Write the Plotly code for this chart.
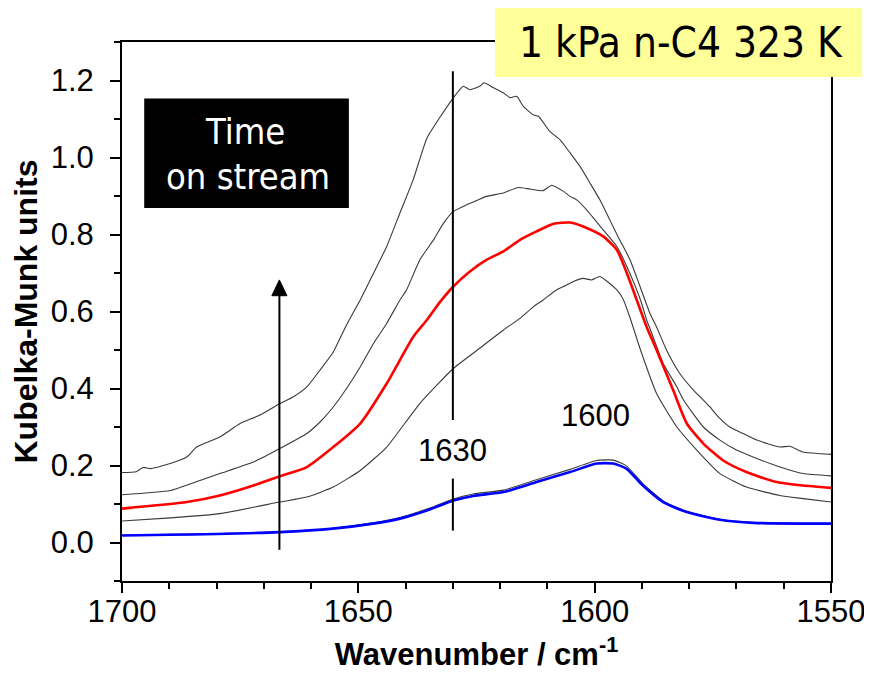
import plotly.graph_objects as go

# ---------------- data ----------------
wn_top = [1700, 1697, 1695.5, 1694, 1689.8, 1686.3, 1684.2, 1679.3, 1675.0, 1670.8, 1666.6, 1663.8,
          1660.9, 1658.1, 1655.3, 1652.5, 1649.6, 1646.8, 1644.0, 1641.2, 1638.4, 1635.5, 1632.7,
          1629.9, 1627.8, 1626.4, 1624.3, 1623.4, 1621.4, 1619.3, 1617.9, 1616.5, 1615.1, 1613.0,
          1611.9, 1609.5, 1607.3, 1605.2, 1603.1, 1601.0, 1598.9, 1596.8, 1594.7, 1592.5, 1590.4,
          1588.3, 1586.9, 1584.8, 1582.0, 1579.1, 1577.0, 1575.6, 1574.2, 1571.4, 1568.6, 1565.7,
          1560.8, 1558.7, 1556.0, 1550]
km_top = [0.182, 0.184, 0.195, 0.192, 0.205, 0.222, 0.248, 0.274, 0.309, 0.331, 0.361, 0.378,
          0.404, 0.448, 0.495, 0.565, 0.630, 0.699, 0.769, 0.856, 0.942, 1.050, 1.105,
          1.155, 1.185, 1.176, 1.185, 1.194, 1.181, 1.168, 1.155, 1.159, 1.133, 1.111,
          1.107, 1.068, 1.046, 1.012, 0.977, 0.934, 0.890, 0.838, 0.786, 0.734, 0.665,
          0.595, 0.560, 0.500, 0.439, 0.396, 0.370, 0.352, 0.331, 0.300, 0.283, 0.266,
          0.248, 0.250, 0.235, 0.229]

wn_second = [1700, 1689.8, 1683.5, 1679.3, 1672.2, 1666.6, 1660.9, 1658.1, 1655.3, 1652.5, 1649.6,
             1646.8, 1644.0, 1641.2, 1639.8, 1637.0, 1634.1, 1632.0, 1629.9, 1627.1, 1624.6, 1622.9,
             1619.3, 1616.2, 1613.7, 1610.9, 1609.1, 1606.6, 1605.2, 1603.8, 1601.7, 1598.2, 1595.3,
             1593.2, 1590.3, 1589.0, 1587.9, 1585.5, 1582.6, 1581.2, 1577.0, 1573.5, 1570.0, 1566.5,
             1560.8, 1555.9, 1550]
km_second = [0.124, 0.135, 0.161, 0.179, 0.209, 0.244, 0.283, 0.313, 0.352, 0.400, 0.456,
             0.517, 0.569, 0.630, 0.656, 0.734, 0.786, 0.829, 0.860, 0.877, 0.890, 0.899,
             0.908, 0.922, 0.918, 0.914, 0.928, 0.912, 0.899, 0.890, 0.864, 0.812, 0.769,
             0.717, 0.630, 0.578, 0.543, 0.465, 0.404, 0.370, 0.300, 0.266, 0.240, 0.222,
             0.196, 0.179, 0.173]

wn_red = [1700, 1686.3, 1679.3, 1672.2, 1666.6, 1660.9, 1655.3, 1649.6, 1644.0, 1638.4, 1635.5,
          1632.7, 1629.9, 1626.4, 1622.9, 1619.3, 1615.8, 1612.3, 1608.7, 1605.2, 1601.7, 1598.2,
          1595.3, 1593.2, 1591.1, 1589.0, 1586.9, 1583.4, 1580.5, 1577.0, 1572.8, 1567.9, 1561.5,
          1555.9, 1550]
km_red = [0.088, 0.105, 0.122, 0.148, 0.172, 0.196, 0.248, 0.309, 0.413, 0.534, 0.578,
          0.625, 0.665, 0.704, 0.734, 0.756, 0.786, 0.808, 0.828, 0.831, 0.817, 0.795,
          0.760, 0.700, 0.630, 0.560, 0.500, 0.396, 0.309, 0.257, 0.213, 0.183, 0.157,
          0.148, 0.142]

wn_fourth = [1700, 1689.8, 1679.3, 1666.6, 1660.9, 1655.3, 1649.6, 1644.0, 1637.0, 1629.9, 1624.6,
             1619.3, 1615.8, 1613.0, 1610.9, 1608.1, 1606.6, 1604.5, 1602.4, 1600.7, 1598.9, 1595.3,
             1593.9, 1592.5, 1590.3, 1586.9, 1582.6, 1578.4, 1573.5, 1567.9, 1560.8, 1555.9, 1550]
km_fourth = [0.056, 0.064, 0.075, 0.105, 0.118, 0.144, 0.187, 0.248, 0.361, 0.452, 0.502,
             0.552, 0.582, 0.612, 0.630, 0.656, 0.665, 0.678, 0.686, 0.682, 0.691, 0.656,
             0.630, 0.583, 0.500, 0.387, 0.300, 0.240, 0.179, 0.144, 0.122, 0.114, 0.105]

wn_blue = [1700, 1690, 1680, 1666.6, 1655.4, 1646.9, 1641.2, 1635.5, 1629.9, 1625.7, 1619.3,
           1612.3, 1605.2, 1599.6, 1596.1, 1593.3, 1589.8, 1585.5, 1580.5, 1573.5, 1566.4, 1555.9, 1550]
km_blue = [0.018, 0.020, 0.022, 0.027, 0.036, 0.049, 0.062, 0.083, 0.109, 0.121, 0.131,
           0.157, 0.183, 0.205, 0.205, 0.192, 0.148, 0.105, 0.079, 0.059, 0.051, 0.049, 0.049]

wn_fifth = [1700, 1690, 1680, 1666.6, 1655.4, 1646.9, 1641.2, 1635.5, 1629.9, 1625.7, 1619.3,
            1612.3, 1605.2, 1599.6, 1596.1, 1593.3, 1589.8, 1585.5, 1580.5, 1573.5, 1566.4, 1555.9, 1550]
km_fifth = [0.019, 0.021, 0.023, 0.028, 0.037, 0.051, 0.065, 0.087, 0.113, 0.126, 0.136,
            0.163, 0.190, 0.213, 0.214, 0.199, 0.153, 0.108, 0.081, 0.060, 0.052, 0.050, 0.050]

x_ticks = [1700, 1650, 1600, 1550]
y_ticks = [0.0, 0.2, 0.4, 0.6, 0.8, 1.0, 1.2]

# ---------------- figure ----------------
GRAY = "#3a3a3a"
fig = go.Figure()
for wn, km in [(wn_top, km_top), (wn_second, km_second), (wn_fourth, km_fourth), (wn_fifth, km_fifth)]:
    fig.add_trace(go.Scatter(x=wn, y=km, mode="lines",
                             line=dict(color=GRAY, width=1.1, shape="spline", smoothing=0.5),
                             showlegend=False, hoverinfo="skip"))
fig.add_trace(go.Scatter(x=wn_red, y=km_red, mode="lines",
                         line=dict(color="#ff0000", width=2.6, shape="spline", smoothing=0.6),
                         showlegend=False))
fig.add_trace(go.Scatter(x=wn_blue, y=km_blue, mode="lines",
                         line=dict(color="#0000ff", width=2.6, shape="spline", smoothing=0.6),
                         showlegend=False))

# the page body adds an 8 px offset, so the figure is 8 px smaller and margins shifted
tickfont = dict(family="Liberation Sans, Arial", size=31, color="black")
fig.update_layout(
    width=864, height=670, autosize=False,
    margin=dict(l=114, r=41, t=34, b=97, autoexpand=False),
    paper_bgcolor="white", plot_bgcolor="white",
    xaxis=dict(range=[1700, 1550], tickvals=x_ticks, ticktext=[str(v) for v in x_ticks],
               ticks="outside", ticklen=10, tickwidth=1.5, tickcolor="black",
               minor=dict(dtick=10, ticks="outside", ticklen=6, tickwidth=1.5, tickcolor="black"),
               showline=True, linecolor="black", linewidth=2, mirror=True, automargin=False,
               showgrid=False, zeroline=False, tickfont=tickfont, ticklabelstandoff=-8,
               title=dict(text="Wavenumber / cm<sup>-1</sup>",
                          font=dict(family="Liberation Sans, Arial", size=31, color="black", weight="bold"),
                          standoff=15)),
    yaxis=dict(range=[-0.1, 1.3], tickvals=y_ticks, ticktext=[f"{v:.1f}" for v in y_ticks],
               ticks="outside", ticklen=10, tickwidth=1.5, tickcolor="black",
               minor=dict(dtick=0.1, tick0=0, ticks="outside", ticklen=6, tickwidth=1.5, tickcolor="black"),
               showline=True, linecolor="black", linewidth=2, mirror=True, automargin=False,
               showgrid=False, zeroline=False, tickfont=tickfont, ticklabelstandoff=10,
               title=dict(text="Kubelka-Munk units",
                          font=dict(family="Liberation Sans, Arial", size=32, color="black", weight="bold"),
                          standoff=7)),
)

arrow_x = 1666.7
shapes = [
    # 1630 marker line (two segments around the label)
    dict(type="line", xref="x", yref="y", x0=1630, x1=1630, y0=0.318, y1=1.224,
         line=dict(color="black", width=2)),
    dict(type="line", xref="x", yref="y", x0=1630, x1=1630, y0=0.031, y1=0.166,
         line=dict(color="black", width=2)),
    # time-on-stream arrow: shaft + head
    dict(type="line", xref="x", yref="y", x0=arrow_x, x1=arrow_x, y0=-0.019, y1=0.65,
         line=dict(color="black", width=2)),
    dict(type="path", xref="x", yref="y",
         path=f"M {arrow_x + 1.6},0.641 L {arrow_x},0.682 L {arrow_x - 1.6},0.641 Z",
         fillcolor="black", line=dict(color="black", width=1)),
    # black "Time on stream" box
    dict(type="rect", xref="x", yref="y", x0=1695.3, x1=1652.0, y0=0.869, y1=1.153,
         fillcolor="black", line=dict(width=0), layer="above"),
    # yellow condition box (overlaps the frame corner)
    dict(type="rect", xref="paper", yref="paper", x0=0.526, x1=1.044, y0=0.935, y1=1.067,
         fillcolor="#ffff99", line=dict(width=0), layer="above"),
]
fig.update_layout(shapes=shapes)

label_font = dict(family="Liberation Sans, Arial", size=31, color="black")
box_font = "DejaVu Sans Condensed, DejaVu Sans"
annotations = [
    dict(x=1630, y=0.24, xref="x", yref="y", text="1630", showarrow=False, font=label_font,
         xanchor="center", yanchor="middle"),
    dict(x=1599.9, y=0.33, xref="x", yref="y", text="1600", showarrow=False, font=label_font,
         xanchor="center", yanchor="middle"),
    dict(x=1674.0, y=1.067, xref="x", yref="y", text="Time", showarrow=False,
         font=dict(family=box_font, size=36, color="white"), xanchor="center", yanchor="middle"),
    dict(x=1673.4, y=0.95, xref="x", yref="y", text="on stream", showarrow=False,
         font=dict(family=box_font, size=36, color="white"), xanchor="center", yanchor="middle"),
    dict(x=0.788, y=1.0, xref="paper", yref="paper", text="1 kPa n-C4 323 K", showarrow=False,
         font=dict(family=box_font, size=42, color="black"), xanchor="center", yanchor="middle"),
]
fig.update_layout(annotations=annotations)

fig.write_html("out.html")
